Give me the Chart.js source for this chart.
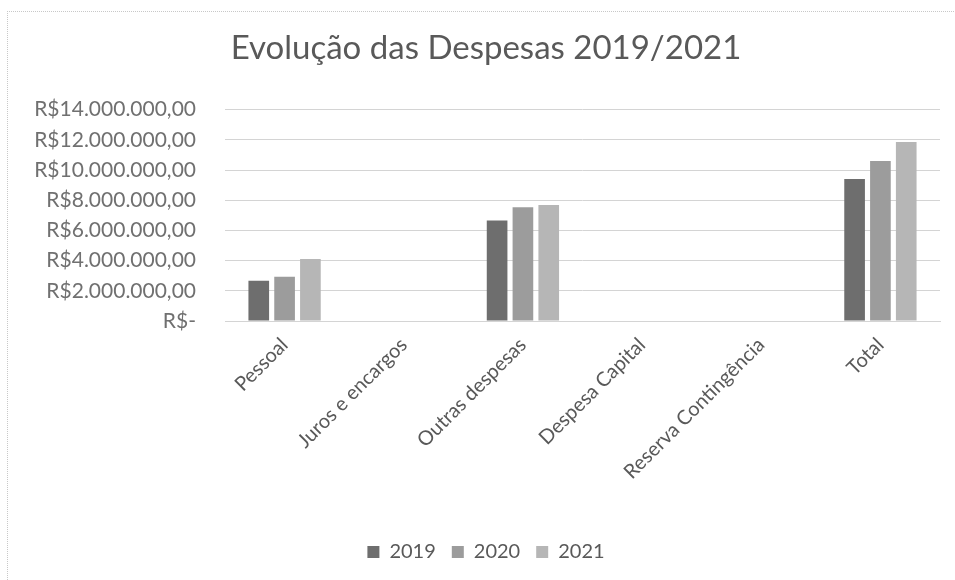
<!DOCTYPE html>
<html>
<head>
<meta charset="utf-8">
<script src="https://cdn.jsdelivr.net/npm/chart.js@4/dist/chart.umd.min.js"></script>
<style>
    html, body { margin: 0; padding: 0; background: #fff; }
    #frame {
        position: absolute; left: 7px; top: 11px; width: 1000px; height: 600px;
        border-left: 1px dotted #c8c8c8; border-top: 1px dotted #c8c8c8;
    }
    #wrap { position: absolute; left: 0; top: 0; width: 955px; height: 580px; }
</style>
</head>
<body>
<div id="frame"></div>
<div id="wrap"><canvas id="despesasChart" width="955" height="580"></canvas></div>
<script>
// Data
const categories = ['Pessoal', 'Juros e encargos', 'Outras despesas', 'Despesa Capital', 'Reserva Contingência', 'Total'];
const years = ['2019', '2020', '2021'];
const values2019 = [2670000, 0, 6650000, 0, 0, 9400000];
const values2020 = [2930000, 0, 7530000, 0, 0, 10600000];
const values2021 = [4100000, 0, 7680000, 0, 0, 11850000];
const yTicks = [0, 2000000, 4000000, 6000000, 8000000, 10000000, 12000000, 14000000];

const barColors = ['#6e6e6e', '#9c9c9c', '#b6b6b6'];
const fontFamily = 'Lato, "Open Sans", sans-serif';

// Excel style currency: R$14.000.000,00 and R$- for zero
const formatBRL = (v) => {
    if (v === 0) return 'R$-';
    const parts = v.toFixed(2).split('.');
    return 'R$' + parts[0].replace(/\B(?=(\d{3})+(?!\d))/g, '.') + ',' + parts[1];
}

const createChart = () => {
    const ctx = document.getElementById('despesasChart').getContext('2d');

    new Chart(ctx, {
        type: 'bar',
        data: {
            labels: categories,
            datasets: [values2019, values2020, values2021].map((d, i) => ({
                label: years[i],
                data: d,
                backgroundColor: barColors[i],
                borderWidth: 0
            }))
        },
        options: {
            responsive: false,
            animation: false,
            layout: { padding: { left: 32, right: 15, top: 0, bottom: 8 } },
            datasets: {
                bar: { categoryPercentage: 0.65, barPercentage: 0.8 }
            },
            scales: {
                x: {
                    grid: { display: false, drawTicks: false },
                    border: { color: '#d4d4d4' },
                    ticks: {
                        color: '#595959',
                        font: { family: fontFamily, size: 20 },
                        maxRotation: 45, minRotation: 45,
                        padding: 12
                    },
                    afterFit(scale) { scale.height = 205; }
                },
                y: {
                    min: 0, max: 14000000,
                    afterBuildTicks(scale) { scale.ticks = yTicks.map(v => ({ value: v })); },
                    grid: { color: '#d4d4d4', drawTicks: false },
                    border: { display: false },
                    ticks: {
                        color: '#707070',
                        font: { family: fontFamily, size: 21 },
                        padding: 29,
                        callback: (v) => formatBRL(v)
                    },
                    afterFit(scale) { scale.width = 193; }
                }
            },
            plugins: {
                title: {
                    display: true,
                    text: 'Evolução das Despesas 2019/2021',
                    color: '#595959',
                    font: { family: fontFamily, size: 33, weight: 'normal' },
                    padding: { top: 29, bottom: 41 }
                },
                legend: {
                    position: 'bottom',
                    labels: {
                        color: '#595959',
                        font: { family: fontFamily, size: 20 },
                        boxWidth: 12, boxHeight: 12,
                        padding: 16
                    }
                },
                tooltip: { enabled: false }
            }
        }
    });
}

createChart();
</script>
</body>
</html>
